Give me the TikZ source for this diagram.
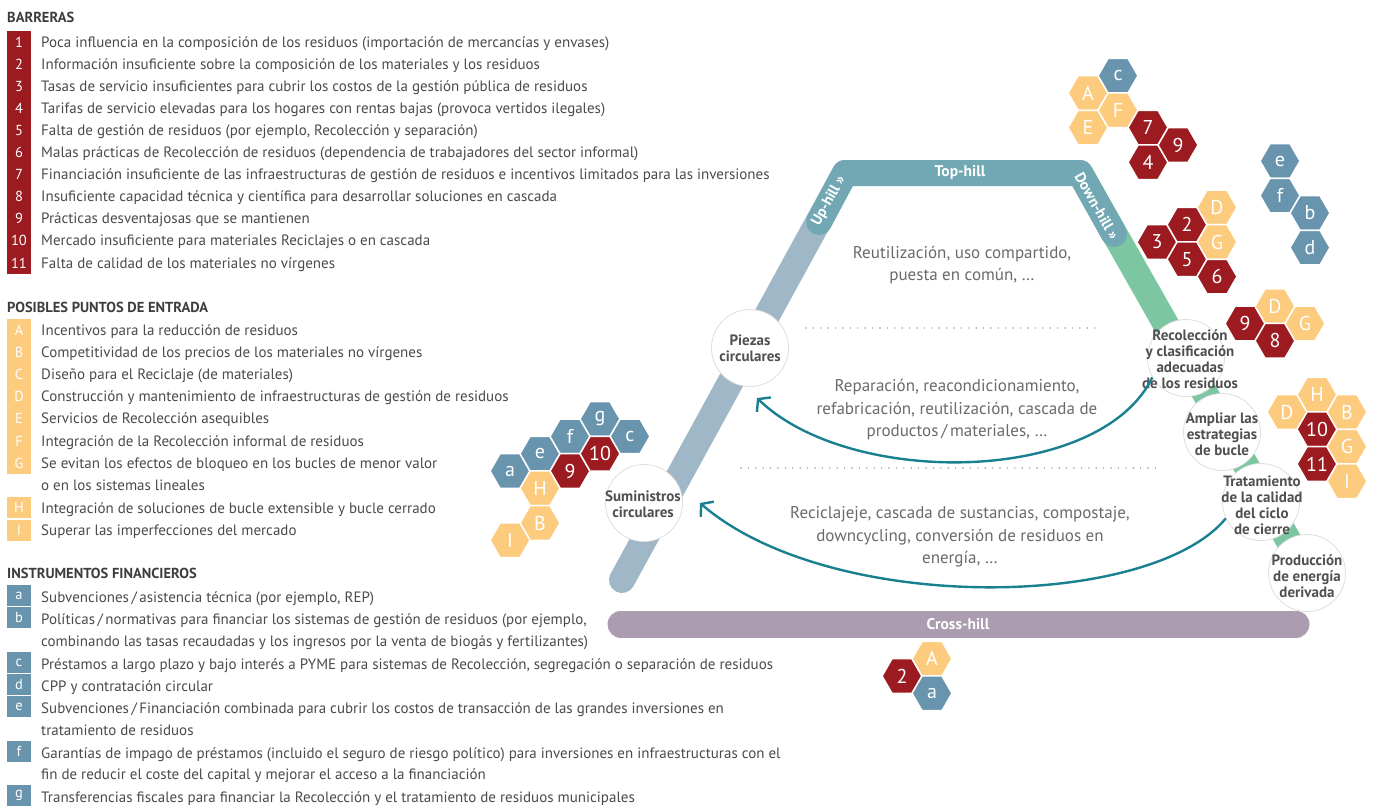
\documentclass[tikz,border=0pt]{standalone}
\usepackage{fontspec}
\setmainfont{PT Sans}
\usetikzlibrary{shapes.geometric,arrows.meta}
\definecolor{bred}{HTML}{9B1B20}
\definecolor{byel}{HTML}{FDCB7E}
\definecolor{bblue}{HTML}{6894AE}
\definecolor{txt}{HTML}{4A4A4A}
\definecolor{midtx}{HTML}{6A6A6A}
\definecolor{headtx}{HTML}{3D3D3D}
\definecolor{uph}{HTML}{9FB7C6}
\definecolor{toph}{HTML}{72A8B4}
\definecolor{downh}{HTML}{7DC6A2}
\definecolor{crossh}{HTML}{AC9CAF}
\definecolor{arrc}{HTML}{18808F}
\definecolor{dotc}{HTML}{9A9A9A}
\newcommand\hx[5]{\node[hexcell,#4] (#1) at (#2,#3) {#5};}
\begin{document}
\begin{tikzpicture}[x=1pt,y=-1pt,
  legtext/.style={anchor=base west,inner sep=0,text=txt,font=\fontsize{15}{16}\selectfont},
  legbox/.style={minimum width=24,minimum height=22.2,inner sep=0,text=white,font=\fontsize{14.5}{16}\selectfont},
  headline/.style={anchor=base west,inner sep=0,text=headtx,font=\bfseries\fontsize{14.5}{15}\selectfont},
  hexcell/.style={regular polygon,regular polygon sides=6,minimum size=40,inner sep=0,draw=white,line width=1.5,text=white,font=\fontsize{20}{20}\selectfont},
  hr/.style={fill=bred},hy/.style={fill=byel},hb/.style={fill=bblue},
  stage/.style={circle,minimum size=77,inner sep=0,fill=white,draw=black!13,line width=0.8},
  stagetext/.style={align=center,inner sep=0,text=headtx!90,font=\bfseries\fontsize{15}{16}\selectfont},
  bandlabel/.style={inner sep=0,text=white,font=\bfseries\fontsize{15.5}{16}\selectfont},
  slantlabel/.style={inner sep=0,text=white,font=\bfseries\fontsize{15}{16}\selectfont},
  midtext/.style={align=center,inner sep=0,text=midtx,font=\fontsize{17}{22.5}\selectfont},
  loop/.style={draw=arrc,line width=2.4,-{Straight Barb[length=8,width=20,line width=2.4]}},
  dotline/.style={draw=dotc,line width=1.6,line cap=round,dash pattern=on 0pt off 7.4pt}
]
\useasboundingbox (0,0) rectangle (1376,807);

% ---------------- BARRERAS
\node[headline] (hb) at (7,22) {BARRERAS};
\foreach \n/\y/\t in {
 1/42/{Poca influencia en la composición de los residuos (importación de mercancías y envases)},
 2/64.1/{Información insuficiente sobre la composición de los materiales y los residuos},
 3/86.2/{Tasas de servicio insuficientes para cubrir los costos de la gestión pública de residuos},
 4/108.3/{Tarifas de servicio elevadas para los hogares con rentas bajas (provoca vertidos ilegales)},
 5/130.4/{Falta de gestión de residuos (por ejemplo, Recolección y separación)},
 6/152.5/{Malas prácticas de Recolección de residuos (dependencia de trabajadores del sector informal)},
 7/174.6/{Financiación insuficiente de las infraestructuras de gestión de residuos e incentivos limitados para las inversiones},
 8/196.7/{Insuficiente capacidad técnica y científica para desarrollar soluciones en cascada},
 9/218.8/{Prácticas desventajosas que se mantienen},
 10/240.9/{Mercado insuficiente para materiales Reciclajes o en cascada},
 11/263/{Falta de calidad de los materiales no vírgenes}}{
  \node[legbox,fill=bred] (bx\n) at (19,\y) {\n};
  \node[legtext] (bt\n) at (41,\y+5) {\t};
}

% ---------------- PUNTOS DE ENTRADA
\node[headline] (hp) at (7,312) {POSIBLES PUNTOS DE ENTRADA};
\foreach \n/\y/\t in {
 A/330/{Incentivos para la reducción de residuos},
 B/352.2/{Competitividad de los precios de los materiales no vírgenes},
 C/374.4/{Diseño para el Reciclaje (de materiales)},
 D/396.6/{Construcción y mantenimiento de infraestructuras de gestión de residuos},
 E/418.8/{Servicios de Recolección asequibles},
 F/441/{Integración de la Recolección informal de residuos},
 G/463.2/{Se evitan los efectos de bloqueo en los bucles de menor valor}}{
  \node[legbox,fill=byel] (px\n) at (19,\y) {\n};
  \node[legtext] (pt\n) at (41,\y+5) {\t};
}
\node[legtext] (ptG2) at (41,490) {o en los sistemas lineales};
\node[legbox,fill=byel,minimum height=21] (pxH) at (19,507.5) {H};
\node[legtext] (ptH) at (41,513) {Integración de soluciones de bucle extensible y bucle cerrado};
\node[legbox,fill=byel,minimum height=21] (pxI) at (19,530.5) {I};
\node[legtext] (ptI) at (41,535) {Superar las imperfecciones del mercado};

% ---------------- INSTRUMENTOS
\node[headline] (hi) at (7,578) {INSTRUMENTOS FINANCIEROS};
\foreach \n/\y/\t in {
 a/597/{Subvenciones\,/\,asistencia técnica (por ejemplo, REP)},
 b/619/{Políticas\,/\,normativas para financiar los sistemas de gestión de residuos (por ejemplo,},
 c/664/{Préstamos a largo plazo y bajo interés a PYME para sistemas de Recolección, segregación o separación de residuos},
 d/686/{CPP y contratación circular},
 e/708/{Subvenciones\,/\,Financiación combinada para cubrir los costos de transacción de las grandes inversiones en},
 f/753/{Garantías de impago de préstamos (incluido el seguro de riesgo político) para inversiones en infraestructuras con el},
 g/797/{Transferencias fiscales para financiar la Recolección y el tratamiento de residuos municipales}}{
  \node[legbox,fill=bblue,minimum height=20.5] (ix\n) at (19,\y-1.5) {\n};
  \node[legtext] (it\n) at (41,\y+5) {\t};
}
\node[legtext] (itb2) at (41,646) {combinando las tasas recaudadas y los ingresos por la venta de biogás y fertilizantes)};
\node[legtext] (ite2) at (41,735) {tratamiento de residuos};
\node[legtext] (itf2) at (41,779) {fin de reducir el coste del capital y mejorar el acceso a la financiación};

% ---------------- BANDS
\coordinate (ubot) at (622,580);
\coordinate (ucorner) at (845,173);
\coordinate (dcorner) at (1080,173);
\coordinate (dbot) at (1307,573);
\coordinate (uend) at (819,222);
\coordinate (dend) at (1114,234);
\draw[uph,line width=26,line cap=round] (ubot) -- (ucorner);
\draw[downh,line width=26,line cap=round] (dcorner) -- (dbot);
\draw[toph,line width=26,line cap=round,line join=round] (uend) -- (ucorner) -- (dcorner) -- (dend);
\node[bandlabel] (toplab) at (960,173) {Top-hill};
\node[slantlabel,rotate=61.3] (uplab) at (829,201) {Up-hill \guillemotright};
\node[slantlabel,rotate=-60.4] (downlab) at (1097,206) {Down-hill \guillemotright};

\coordinate (cl) at (621,624);
\coordinate (cr) at (1296,624);
\draw[crossh,line width=27,line cap=round] (cl) -- (cr);
\node[bandlabel] (crosslab) at (958,624) {Cross-hill};

% ---------------- dotted separators
\coordinate (d1a) at (806,328);
\coordinate (d1b) at (1096,328);
\coordinate (d2a) at (741,468);
\coordinate (d2b) at (1160,468);
\draw[dotline] (d1a) -- (d1b);
\draw[dotline] (d2a) -- (d2b);

% ---------------- middle texts
\node[midtext] (m1) at (962,265) {Reutilización, uso compartido,\\puesta en común, \dots};
\node[midtext] (m2) at (957,410) {Reparación, reacondicionamiento,\\refabricación, reutilización, cascada de\\productos\,/\,materiales, \dots};
\node[midtext] (m3) at (960,537) {Reciclajeje, cascada de sustancias, compostaje,\\downcycling, conversión de residuos en\\energía, \dots};

% ---------------- stage circles
\node[stage] (piezas) at (750,348) {};
\node[stagetext] (piezast) at (750,348) {Piezas\\circulares};
\node[stage] (sumin) at (644,503) {};
\node[stagetext] (sumint) at (643,504) {Suministros\\circulares};
\node[stage] (recol) at (1186,358) {};
\node[stage] (ampl) at (1222,432) {};
\node[stage] (trat) at (1261,502) {};
\node[stage] (prod) at (1307,573) {};
\node[stagetext] (recolt) at (1190,359) {Recolección\\y clasificación\\adecuadas\\de los residuos};
\node[stagetext] (amplt) at (1222,434) {Ampliar las\\estrategias\\de bucle};
\node[stagetext] (tratt) at (1262,505) {Tratamiento\\de la calidad\\del ciclo\\de cierre};
\node[stagetext] (prodt) at (1307,576) {Producción\\de energía\\derivada};

% ---------------- loop arrows
\coordinate (tip1) at (757,398);
\coordinate (tip2) at (700,503);
\draw[loop] (recol.210) .. controls (1100,485) and (850,488) .. (tip1);
\draw[loop] (trat.205) .. controls (1150,610) and (830,615) .. (tip2);

% ---------------- hexagon clusters
% cluster near Suministros
\hx{k1a}{510}{471}{hb}{a}
\hx{k1e}{540}{453.7}{hb}{e}
\hx{k1f}{570}{436.4}{hb}{f}
\hx{k1g}{600}{419}{hb}{g}
\hx{k1c}{630}{436.4}{hb}{c}
\hx{k19}{570}{471}{hr}{9}
\hx{k110}{600}{453.7}{hr}{10}
\hx{k1H}{540}{488.3}{hy}{H}
\hx{k1B}{540}{523}{hy}{B}
\hx{k1I}{510}{540.3}{hy}{I}
% cluster top right
\hx{k2A}{1088}{93}{hy}{A}
\hx{k2E}{1088}{127.6}{hy}{E}
\hx{k2c}{1118}{75.7}{hb}{c}
\hx{k2F}{1118}{110.3}{hy}{F}
\hx{k27}{1148}{127.6}{hr}{7}
\hx{k24}{1148}{162.3}{hr}{4}
\hx{k29}{1178}{145}{hr}{9}
% blue cluster far right
\hx{k3e}{1280}{161}{hb}{e}
\hx{k3f}{1280}{195.6}{hb}{f}
\hx{k3b}{1310}{213}{hb}{b}
\hx{k3d}{1310}{247.6}{hb}{d}
% cluster 3-2-5-6
\hx{k43}{1157}{242}{hr}{3}
\hx{k42}{1187}{224.7}{hr}{2}
\hx{k45}{1187}{259.3}{hr}{5}
\hx{k4D}{1217}{207.4}{hy}{D}
\hx{k4G}{1217}{242}{hy}{G}
\hx{k46}{1217}{276.6}{hr}{6}
% cluster near Recoleccion
\hx{k59}{1245}{323.5}{hr}{9}
\hx{k5D}{1275}{306.2}{hy}{D}
\hx{k58}{1275}{340.8}{hr}{8}
\hx{k5G}{1305}{323.5}{hy}{G}
% cluster near Ampliar
\hx{k6D}{1287}{412}{hy}{D}
\hx{k6H}{1317}{394.7}{hy}{H}
\hx{k610}{1317}{429.3}{hr}{10}
\hx{k611}{1317}{464}{hr}{11}
\hx{k6B}{1347}{412}{hy}{B}
\hx{k6G}{1347}{446.6}{hy}{G}
\hx{k6I}{1347}{481.3}{hy}{I}
% cluster under cross-hill
\hx{k72}{902}{676}{hr}{2}
\hx{k7A}{932}{658.7}{hy}{A}
\hx{k7a}{932}{693.3}{hb}{a}
\end{tikzpicture}
\end{document}
